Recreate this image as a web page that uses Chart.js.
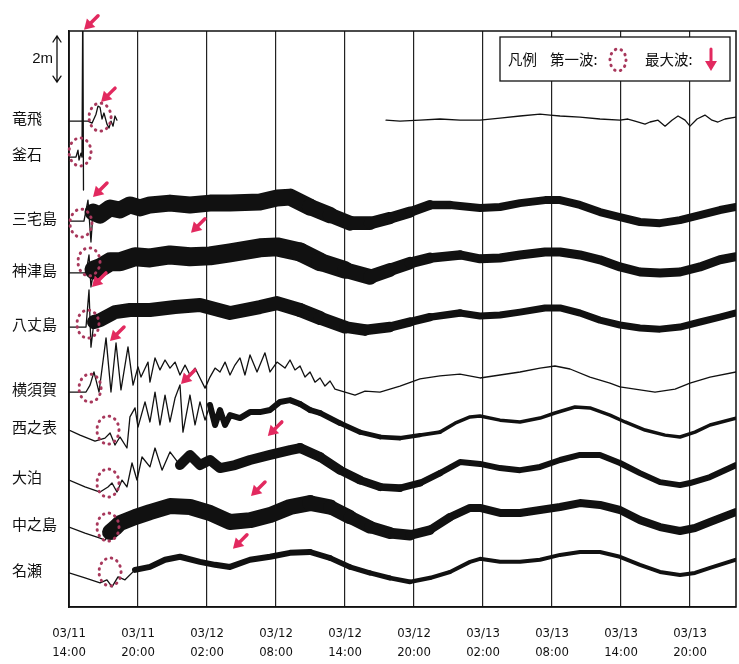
<!DOCTYPE html>
<html>
<head>
<meta charset="utf-8">
<script src="https://cdn.jsdelivr.net/npm/chart.js@4.4.1/dist/chart.umd.min.js"></script>
<style>
  html, body { margin: 0; background: #fff; }
  #wrap { width: 739px; height: 664px; }
</style>
</head>
<body>
<div id="wrap"><canvas id="tide"></canvas></div>
<script>
// stations, top to bottom
const stationNames = ['竜飛', '釜石', '三宅島', '神津島', '八丈島', '横須賀', '西之表', '大泊', '中之島', '名瀬'];
// x axis: hours after 03/11 14:00
const tickHours = [0, 6, 12, 18, 24, 30, 36, 42, 48, 54];
const tickLabels = [
    ['03/11', '14:00'], ['03/11', '20:00'], ['03/12', '02:00'], ['03/12', '08:00'], ['03/12', '14:00'],
    ['03/12', '20:00'], ['03/13', '02:00'], ['03/13', '08:00'], ['03/13', '14:00'], ['03/13', '20:00']
];

// [hour, level in m]
const tappi = [[0,0],[1.65,0],[2.0,-0.09],[2.35,0.3],[2.52,0.65],[2.7,0.6],[2.87,0.09],[3.04,0.35],[3.3,-0.13],[3.48,-0.3],[3.65,0],[3.83,-0.22],[4.0,0.22],[4.17,0.04],[10,null],[27.57,0.04],[28.78,0],[30.52,0.04],[32.26,0.09],[34.0,0.04],[35.74,0.04],[37.48,0.13],[39.22,0.22],[40.96,0.3],[41.83,0.26],[42.7,0.22],[44.43,0.17],[46.17,0.09],[47.91,0.04],[48.6,0.09],[49.22,0],[50.09,-0.13],[50.52,-0.04],[51.22,0.04],[51.83,-0.22],[52.43,0.04],[52.96,0.22],[53.57,0.04],[54.0,-0.22],[54.61,0.09],[55.3,0.26],[55.91,0.04],[56.43,-0.04],[57.04,0.09],[58,0.17]];
const kamaishi = [[0,0],[0.61,0],[0.78,0.3],[0.87,-0.13],[1.04,0.17],[1.13,0],[1.2,7],[1.26,-1.43]];
const miyakejima = [[0,0],[1.3,0],[1.65,0.91],[1.91,-0.91],[2.09,0.39],[2.7,0.26],[3.57,0.57],[4.43,0.48],[5.3,0.7],[6.17,0.57],[7.04,0.7],[8.78,0.78],[10.52,0.7],[12.26,0.78],[14.0,0.78],[16.6,0.83],[18.09,1.0],[19.22,1.04],[20.96,0.61],[22.7,0.26],[24.43,-0.09],[26.17,-0.09],[27.91,0.13],[29.65,0.39],[31.39,0.7],[33.13,0.7],[35.74,0.57],[37.48,0.61],[39.22,0.78],[41.39,0.91],[42.7,0.91],[44.43,0.7],[46.17,0.39],[47.91,0.17],[49.65,-0.04],[51.39,-0.09],[53.13,0.04],[54.87,0.26],[56.6,0.48],[58,0.61]];
const kozushima = [[0,0],[1.48,0],[1.74,0.78],[1.91,-0.61],[2.17,0.13],[2.7,0.22],[3.57,0.48],[4.43,0.48],[5.74,0.7],[7.04,0.65],[8.78,0.78],[10.52,0.7],[12.26,0.74],[14.0,0.87],[16.6,1.09],[18.09,1.13],[20.09,0.91],[21.83,0.48],[24.0,0.13],[26.17,-0.17],[27.91,0.13],[29.65,0.43],[31.39,0.65],[34.0,0.78],[35.74,0.61],[37.48,0.65],[39.22,0.78],[41.39,0.91],[42.7,0.91],[44.43,0.78],[46.17,0.57],[47.91,0.26],[49.65,0.04],[51.39,0],[53.13,0.04],[54.87,0.26],[56.6,0.57],[58,0.7]];
const hachijojima = [[0,0],[1.48,0],[1.74,1.61],[1.91,-0.87],[2.17,0.22],[2.7,0.3],[4.0,0.65],[5.3,0.74],[7.04,0.74],[9.22,0.87],[11.39,0.96],[14.0,0.61],[16.6,0.87],[18.09,1.04],[20.09,0.74],[21.83,0.39],[24.0,0],[25.74,-0.13],[27.91,0],[29.65,0.22],[31.39,0.43],[34.0,0.61],[35.74,0.48],[37.48,0.52],[39.22,0.65],[41.39,0.83],[42.7,0.83],[44.43,0.61],[46.17,0.3],[47.91,0.09],[49.65,-0.04],[51.39,-0.09],[53.13,0],[54.87,0.22],[56.6,0.43],[58,0.61]];
const yokosuka = [[0,0],[1.48,0],[1.83,0.3],[2.17,0.87],[2.35,0.52],[2.61,0],[3.22,2.35],[3.65,0],[4.09,2.13],[4.52,0.09],[5.13,1.96],[5.57,0.3],[6.0,1.09],[6.26,0.65],[6.87,1.3],[7.04,0.43],[7.48,1.48],[7.91,0.96],[8.35,1.39],[8.78,1.04],[9.22,1.3],[9.65,0.74],[10.09,1.17],[10.52,0.74],[10.96,1.04],[11.39,0.61],[11.83,0.17],[12.26,0.65],[12.7,1.04],[13.13,0.87],[13.57,1.3],[14.0,0.74],[14.43,1.17],[14.87,1.48],[15.3,0.74],[15.74,1.61],[16.35,0.87],[17.04,1.7],[17.48,0.87],[18.09,1.3],[18.78,1.04],[19.22,1.39],[19.65,0.96],[20.09,1.13],[20.52,0.65],[20.96,0.87],[21.39,0.43],[21.83,0.61],[22.26,0.26],[22.7,0.48],[23.13,0.13],[24.0,0],[24.87,-0.13],[25.74,0.04],[27.04,0],[28.78,0.26],[30.52,0.57],[32.26,0.7],[34.0,0.78],[35.74,0.61],[37.48,0.74],[39.22,0.87],[40.96,1.04],[42.26,1.13],[43.57,1.0],[45.3,0.65],[47.04,0.39],[47.91,0.22],[49.65,0.09],[50.96,0],[52.7,0.13],[54.0,0.39],[55.74,0.65],[58,0.87]];
const nishinoomote = [[0,0],[0.96,-0.22],[2.26,-0.48],[3.13,-0.35],[3.57,-0.13],[4.0,-0.65],[4.43,-0.3],[5.04,-0.78],[5.3,0.57],[5.74,0.96],[6.0,0.13],[6.61,1.22],[7.04,0.35],[7.48,1.65],[7.91,0.22],[8.35,1.52],[8.78,0.35],[9.22,1.39],[9.65,1.96],[9.91,-0.09],[10.52,1.52],[10.96,0.22],[11.39,1.22],[11.83,0.43],[12.26,1.09],[12.7,0.22],[13.13,0.87],[13.57,0.22],[14.0,0.65],[14.87,0.52],[15.74,0.78],[16.6,0.78],[17.48,0.87],[18.35,1.22],[19.22,1.3],[20.09,1.13],[20.96,0.87],[21.83,0.74],[23.57,0.3],[25.3,-0.09],[27.04,-0.3],[28.78,-0.35],[30.52,-0.22],[32.26,-0.09],[33.57,0.3],[34.87,0.57],[35.74,0.61],[37.48,0.43],[39.22,0.35],[40.96,0.52],[42.26,0.74],[44.0,1.0],[45.3,0.96],[47.04,0.65],[48.35,0.35],[50.09,0],[51.83,-0.22],[53.13,-0.3],[54.43,-0.09],[55.74,0.22],[58,0.52]];
const oodomari = [[0,0],[1.39,-0.3],[2.7,-0.52],[3.39,-0.3],[3.74,-0.13],[4.17,-0.52],[4.61,0],[5.04,-0.3],[5.48,0.74],[5.91,0],[6.35,1.0],[7.04,0.57],[7.48,1.39],[8.09,0.43],[8.78,1.22],[9.65,0.65],[10.52,1.09],[11.39,0.65],[12.26,0.87],[13.13,0.52],[14.43,0.65],[15.74,0.87],[17.48,1.09],[19.22,1.3],[20.09,1.39],[21.83,1.0],[23.57,0.43],[25.3,0],[27.04,-0.3],[28.78,-0.35],[30.52,-0.13],[32.26,0.3],[34.0,0.78],[35.74,0.7],[37.48,0.52],[39.22,0.43],[40.96,0.57],[42.7,0.87],[44.43,1.09],[46.17,1.09],[47.91,0.74],[49.65,0.3],[51.39,-0.09],[53.13,-0.22],[54.0,-0.13],[55.74,0.13],[58,0.65]];
const nakanoshima = [[0,0],[1.39,-0.26],[2.7,-0.48],[3.13,-0.57],[3.57,-0.22],[4.0,-0.04],[4.43,0.17],[5.74,0.43],[7.04,0.65],[8.78,0.91],[10.52,0.87],[12.26,0.61],[14.0,0.22],[15.74,0.3],[17.48,0.52],[19.22,0.87],[20.96,1.04],[22.7,0.87],[24.43,0.43],[26.17,0],[27.91,-0.26],[29.65,-0.35],[31.39,-0.13],[33.13,0.43],[34.87,0.83],[35.74,0.83],[37.48,0.61],[39.22,0.61],[40.96,0.74],[42.7,0.87],[44.43,1.04],[46.17,0.96],[47.91,0.74],[49.65,0.3],[51.39,0],[53.13,-0.17],[54.43,-0.04],[55.74,0.22],[58,0.65]];
const naze = [[0,0],[1.39,-0.22],[2.7,-0.43],[3.3,-0.3],[3.74,-0.61],[4.26,-0.17],[4.87,-0.3],[5.74,0.13],[7.04,0.26],[8.35,0.57],[9.65,0.7],[11.39,0.48],[12.7,0.35],[14.0,0.26],[15.74,0.57],[17.48,0.7],[19.22,0.87],[20.96,0.91],[22.7,0.65],[24.43,0.26],[26.17,0],[27.91,-0.22],[29.65,-0.39],[31.39,-0.22],[33.13,0.04],[34.87,0.48],[35.74,0.61],[37.48,0.48],[39.22,0.48],[40.96,0.57],[42.7,0.78],[44.43,0.91],[46.17,0.91],[47.91,0.7],[49.65,0.35],[51.39,0.04],[53.13,-0.09],[54.43,0],[55.74,0.22],[58,0.57]];
const stationSeries = [tappi, kamaishi, miyakejima, kozushima, hachijojima, yokosuka, nishinoomote, oodomari, nakanoshima, naze];

// first wave (dotted circle) and maximum wave (arrow): [hour, level in m]
const firstWave = [[2.7,0.17],[0.96,0.22],[1.04,-0.09],[1.74,0.48],[1.65,0.13],[1.83,0.17],[3.39,0],[3.39,-0.13],[3.39,0],[3.57,0.04]];
const maxWave = [[2.7,0.78],[1.22,5.48],[2.0,1.0],[10.52,1.7],[1.91,1.7],[3.48,2.17],[9.65,1.96],[17.2,1.87],[15.74,1.3],[14.17,1.0]];

// layout: zero line of each trace on the stacked axis (m)
const stationOffsets = [-3.91, -5.47, -8.25, -10.5, -12.85, -15.67, -17.32, -19.49, -21.53, -23.52];
// noisy traces are drawn as a band: [hour band starts, width early, width late]
const bandStyle = [[99,1.3,1.3],[99,1.5,1.5],[2.05,17,8],[2.1,19,9],[2.1,14,7],[99,1.2,1.2],[12,6,3.5],[9.6,10,6],[3.5,16,8],[5,6,4]];

const ARROW = '#e2295f';
const CIRCLE = '#a8385c';

function bandWidth(style, t) {
    const [start, early, late] = style;
    if (t < start) return 1.3;
    if (t <= 20) return early;
    if (t >= 32) return late;
    return early + (late - early) * (t - 20) / 12;
}

function drawArrow(ctx, x0, y0, x1, y1, w) {
    const dx = x1 - x0, dy = y1 - y0;
    const len = Math.hypot(dx, dy);
    const ux = dx / len, uy = dy / len;
    const head = 10;
    ctx.strokeStyle = ARROW;
    ctx.fillStyle = ARROW;
    ctx.lineWidth = w;
    ctx.lineCap = 'round';
    ctx.beginPath();
    ctx.moveTo(x0, y0);
    ctx.lineTo(x1 - ux * head * 0.6, y1 - uy * head * 0.6);
    ctx.stroke();
    ctx.beginPath();
    ctx.moveTo(x1, y1);
    ctx.lineTo(x1 - ux * head - uy * 6, y1 - uy * head + ux * 6);
    ctx.lineTo(x1 - ux * head + uy * 6, y1 - uy * head - ux * 6);
    ctx.closePath();
    ctx.fill();
}

function drawDotCircle(ctx, cx, cy, rx, ry) {
    ctx.save();
    ctx.strokeStyle = CIRCLE;
    ctx.lineWidth = 3;
    ctx.lineCap = 'round';
    ctx.setLineDash([0.5, 5.5]);
    ctx.beginPath();
    ctx.ellipse(cx, cy, rx, ry, 0, 0, Math.PI * 2);
    ctx.stroke();
    ctx.restore();
}

const overlay = {
    id: 'overlay',
    afterDatasetsDraw(chart) {
        const {ctx, chartArea: a, scales: {x, y}} = chart;
        ctx.save();

        // frame
        ctx.strokeStyle = '#111';
        ctx.lineWidth = 1.5;
        ctx.strokeRect(a.left, a.top, a.right - a.left, a.bottom - a.top);

        // first waves
        firstWave.forEach(([t, h], i) => {
            drawDotCircle(ctx, x.getPixelForValue(t), y.getPixelForValue(stationOffsets[i] + h), 11, 14);
        });

        // max waves
        maxWave.forEach(([t, h], i) => {
            const px = x.getPixelForValue(t);
            const py = y.getPixelForValue(stationOffsets[i] + h);
            drawArrow(ctx, px + 15, py - 15, px + 1, py - 1, 3.5);
        });

        // 2m scale bar
        const barX = a.left - 12;
        const barTop = a.top + 5;
        const barLen = y.getPixelForValue(0) - y.getPixelForValue(2);
        ctx.strokeStyle = '#111';
        ctx.lineWidth = 1.3;
        ctx.beginPath();
        ctx.moveTo(barX, barTop);
        ctx.lineTo(barX, barTop + barLen);
        ctx.moveTo(barX - 4, barTop + 6); ctx.lineTo(barX, barTop); ctx.lineTo(barX + 4, barTop + 6);
        ctx.moveTo(barX - 4, barTop + barLen - 6); ctx.lineTo(barX, barTop + barLen); ctx.lineTo(barX + 4, barTop + barLen - 6);
        ctx.stroke();
        ctx.fillStyle = '#111';
        ctx.font = '15px "Liberation Sans", sans-serif';
        ctx.textAlign = 'right';
        ctx.textBaseline = 'middle';
        ctx.fillText('2m', barX - 4, barTop + barLen / 2);

        // legend box
        const lx = a.right - 236, ly = a.top + 6, lw = 230, lh = 44;
        const my = ly + lh / 2;
        ctx.fillStyle = '#fff';
        ctx.fillRect(lx, ly, lw, lh);
        ctx.strokeStyle = '#111';
        ctx.lineWidth = 1.3;
        ctx.strokeRect(lx, ly, lw, lh);
        ctx.fillStyle = '#111';
        ctx.textAlign = 'left';
        ctx.font = '14.5px "Noto Sans CJK JP", sans-serif';
        ctx.fillText('凡例', lx + 8, my);
        ctx.fillText('第一波:', lx + 50, my);
        drawDotCircle(ctx, lx + 118, my + 1, 8, 11);
        ctx.fillStyle = '#111';
        ctx.fillText('最大波:', lx + 145, my);
        drawArrow(ctx, lx + 211, my - 10, lx + 211, my + 12, 3);

        ctx.restore();
    }
};

const datasets = stationSeries.map((series, i) => ({
    label: stationNames[i],
    data: series.map(([t, h]) => ({x: t, y: h === null ? null : stationOffsets[i] + h})),
    borderColor: '#111',
    borderWidth: 1.3,
    pointRadius: 0,
    borderCapStyle: 'round',
    borderJoinStyle: 'round',
    spanGaps: false,
    segment: {
        borderWidth: c => bandWidth(bandStyle[i], c.p0.parsed.x)
    }
}));

new Chart(document.getElementById('tide'), {
    type: 'line',
    data: { datasets },
    options: {
        responsive: true,
        maintainAspectRatio: false,
        animation: false,
        layout: { padding: { top: 31, right: 3, left: 12, bottom: 0 } },
        plugins: {
            legend: { display: false },
            tooltip: { enabled: false }
        },
        scales: {
            x: {
                type: 'linear',
                min: 0,
                max: 58,
                afterBuildTicks: s => { s.ticks = tickHours.map(v => ({value: v})); },
                afterFit: s => { s.height = 57; },
                grid: { color: '#222', lineWidth: 1.2, drawTicks: false },
                border: { color: '#111', width: 1.5 },
                ticks: {
                    padding: 17,
                    maxRotation: 0,
                    autoSkip: false,
                    color: '#111',
                    font: { family: '"Liberation Sans Narrow", "DejaVu Sans Condensed", sans-serif', size: 13, lineHeight: 1.45 },
                    callback: (v, i) => tickLabels[i]
                }
            },
            y: {
                type: 'linear',
                min: -25,
                max: 0,
                afterBuildTicks: s => { s.ticks = stationOffsets.map(v => ({value: v})); },
                afterFit: s => { s.width = 57; },
                grid: { display: false },
                border: { color: '#111', width: 1.5 },
                ticks: {
                    crossAlign: 'far',
                    autoSkip: false,
                    labelOffset: -3,
                    color: '#111',
                    font: { family: '"Noto Sans CJK JP", sans-serif', size: 15 },
                    callback: (v, i) => stationNames[i]
                }
            }
        }
    },
    plugins: [overlay]
});
</script>
</body>
</html>
